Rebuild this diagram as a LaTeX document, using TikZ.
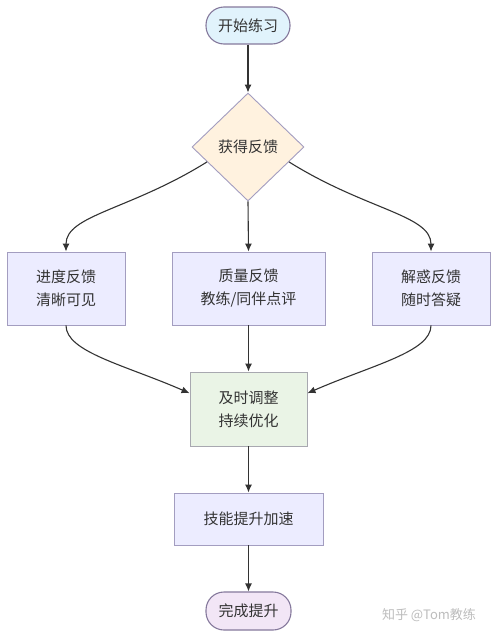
\documentclass[tikz,border=0pt]{standalone}
\usepackage{fontspec}
\newfontfamily\cjk{Noto Sans CJK SC}
\usetikzlibrary{shapes.geometric,arrows.meta}
\definecolor{txt}{HTML}{333333}
\definecolor{ln}{HTML}{333333}
\definecolor{bx}{HTML}{ECECFF}
\definecolor{bxd}{HTML}{A39DC0}
\definecolor{startf}{HTML}{E1F3FC}
\definecolor{endf}{HTML}{F2E6F6}
\definecolor{diaf}{HTML}{FFF2DF}
\definecolor{grf}{HTML}{EAF4E6}
\definecolor{grd}{HTML}{A8A8B0}
\definecolor{termd}{HTML}{85799C}
\definecolor{wm}{HTML}{BDBDBD}
\begin{document}
\begin{tikzpicture}[x=1pt,y=-1pt,
  every node/.style={font=\cjk\fontsize{15}{23}\selectfont, text=txt, align=center, inner sep=0pt},
  term/.style={rectangle, rounded corners=18pt, draw=termd, line width=1.1pt},
  procbox/.style={rectangle, draw=bxd, fill=bx, line width=0.9pt},
  decide/.style={diamond, draw=bxd, fill=diaf, line width=0.9pt, minimum width=112pt, minimum height=108pt},
  conn/.style={draw=ln, line width=1.1pt, -{Latex[length=8pt,width=7pt]}}]
\useasboundingbox (0,0) rectangle (497,637);
\fill[white] (0,0) rectangle (497,637);
\node[term, fill=startf, minimum width=84pt, minimum height=37pt] (s) at (248,25.5) {开始练习};
\node[decide] (d) at (248,147) {获得反馈};
\node[procbox, minimum width=118pt, minimum height=73pt] (a) at (66,288.5) {进度反馈\\清晰可见};
\node[procbox, minimum width=153pt, minimum height=73pt] (b) at (248.5,288.5) {质量反馈\\教练/同伴点评};
\node[procbox, minimum width=118pt, minimum height=73pt] (c) at (431,288.5) {解惑反馈\\随时答疑};
\node[procbox, fill=grf, draw=grd, minimum width=117pt, minimum height=74pt] (g) at (248.5,409) {及时调整\\持续优化};
\node[procbox, minimum width=149pt, minimum height=52pt] (k) at (248.5,519) {技能提升加速};
\node[term, fill=endf, minimum width=85pt, minimum height=38pt] (e) at (248.5,611) {完成提升};
\node[text=wm, font=\cjk\fontsize{13}{15}\selectfont] (w) at (429,615) {知乎 @Tom教练};
\draw[conn] (s.south) -- (d.north);
\draw[conn] (d.south) -- (b.north);
\draw[conn] (d.-160) .. controls (130,210) and (66,215) .. (a.north);
\draw[conn] (d.-20) .. controls (366,210) and (431,215) .. (c.north);
\draw[conn] (a.south) .. controls (66,352) and (125,365) .. (g.165);
\draw[conn] (c.south) .. controls (431,352) and (372,365) .. (g.15);
\draw[conn] (b.south) -- (g.north);
\draw[conn] (g.south) -- (k.north);
\draw[conn] (k.south) -- (e.north);
\end{tikzpicture}
\end{document}
